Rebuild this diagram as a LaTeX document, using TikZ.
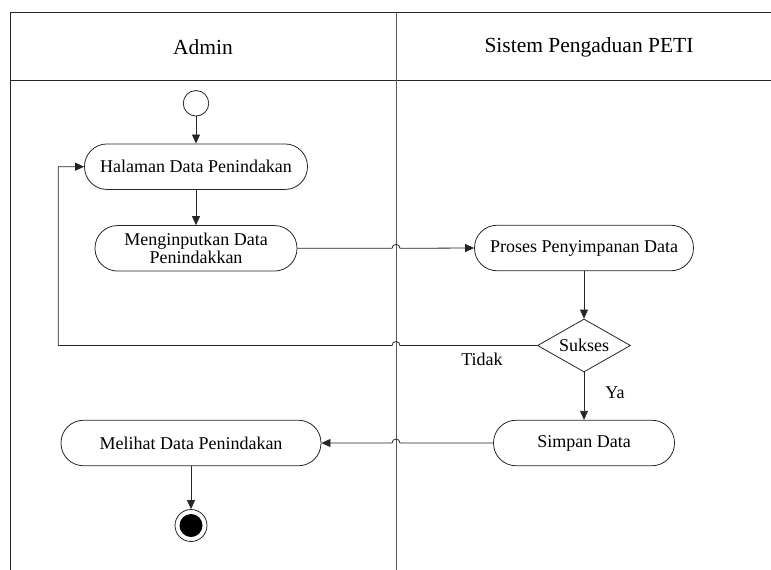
\documentclass[tikz,border=0pt]{standalone}
\usepackage{fontspec}
\setmainfont{Liberation Serif}
\usetikzlibrary{shapes.geometric,arrows.meta,calc}
\begin{document}
\begin{tikzpicture}[x=1pt,y=-1pt,
  frame/.style={line width=0.9pt,draw=black!85},
  lane/.style={line width=0.9pt,draw=black!65},
  act/.style={draw=black!85,line width=0.8pt,rectangle,rounded corners=22.5pt,minimum height=45.5pt,inner sep=0pt,align=center,font=\fontsize{18}{18.7}\selectfont},
  dec/.style={draw=black!85,line width=0.8pt,diamond,aspect=1.75,inner sep=0pt,minimum width=93pt,minimum height=53pt,font=\fontsize{18}{19}\selectfont},
  head/.style={font=\fontsize{21.5}{23}\selectfont},
  lbl/.style={font=\fontsize{18}{19}\selectfont},
  line/.style={draw=black!85,line width=0.8pt,-{Triangle[length=9pt,width=8pt]}}
]
\useasboundingbox (0,0) rectangle (771,570);
% frame
\coordinate (tl) at (10,12);
\coordinate (tr) at (771,12);
\coordinate (bl) at (10,570);
\coordinate (hl) at (10,80);
\coordinate (hr) at (771,80);
\coordinate (divtop) at (396,12);
\coordinate (divbot) at (396,570);
\draw[frame] (tr) -- (tl) -- (bl);
\draw[frame] (hl) -- (hr);
\draw[lane] (divtop) -- (divbot);
\node[head] (hadmin) at (203,47) {Admin};
\node[head] (hsys) at (589,47) {Sistem Pengaduan PETI};
% nodes
\node[circle,draw=black!85,line width=0.8pt,minimum size=25.5pt,inner sep=0pt] (start) at (196,103.3) {};
\node[act,minimum width=223pt] (hal) at (196,166.7) {Halaman Data Penindakan};
\node[act,minimum width=202pt] (men) at (196,248.3) {Menginputkan Data\\Penindakkan};
\node[act,minimum width=219pt] (pro) at (584,248) {Proses Penyimpanan Data};
\node[dec] (suk) at (584,345.5) {Sukses};
\node[act,minimum width=181pt] (sim) at (584,443) {Simpan Data};
\node[act,minimum width=260pt] (mel) at (191,443) {Melihat Data Penindakan};
\node[circle,draw=black!85,line width=0.8pt,minimum size=32pt,inner sep=0pt] (end) at (191,525.5) {};
\fill[black] (end.center) circle (11.5pt);
% connectors
\draw[line] (start) -- (hal);
\draw[line] (hal) -- (men);
\draw[line] (men.east) -- ($(men.east -| divtop)+(-4pt,0)$) arc (180:0:4pt) -- (pro.west);
\draw[line] (pro) -- (suk);
\draw[line] (suk.west) -- ($(suk.west -| divtop)+(4pt,0)$) arc (0:180:4pt) -- (58.3,345.5) |- (hal.west);
\draw[line] (suk) -- (sim);
\draw[line] (sim.west) -- ($(sim.west -| divtop)+(4pt,0)$) arc (0:180:4pt) -- (mel.east);
\draw[line] (mel) -- (end);
% labels
\node[lbl] (ltidak) at (482,359.5) {Tidak};
\node[lbl] (lya) at (615,393) {Ya};
\end{tikzpicture}
\end{document}
